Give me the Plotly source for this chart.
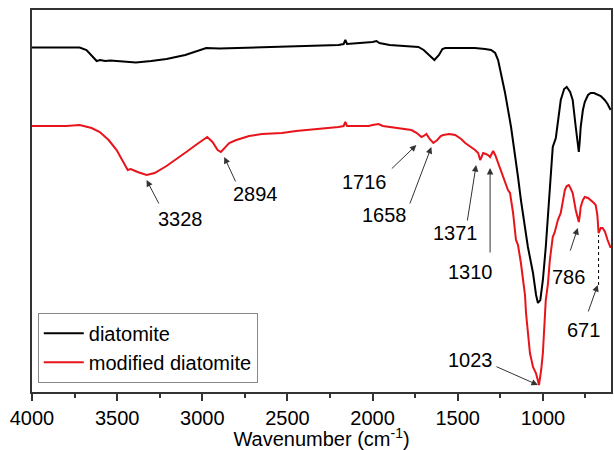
import plotly.graph_objects as go

# ---- data ----
wn_black = [4000, 3900, 3800, 3720, 3680, 3650, 3620, 3600, 3570, 3540, 3500, 3450, 3390, 3300, 3210, 3100,
            3018, 2977, 2900, 2800, 2700, 2600, 2500, 2433, 2300, 2200, 2170, 2160, 2150, 2100, 2050, 2023,
            2000, 1977, 1960, 1900, 1800, 1731, 1700, 1660, 1637, 1610, 1590, 1573, 1500, 1400, 1340, 1304,
            1280, 1263, 1222, 1187, 1146, 1129, 1088, 1058, 1040, 1029, 1015, 1000, 983, 959, 942, 924,
            910, 895, 875, 860, 840, 825, 807, 795, 789, 783, 778, 765, 754, 735, 719, 700, 678, 660, 637, 620, 602]
t_black = [344.5, 344.5, 344.5, 344.5, 342, 336, 331, 332, 331, 331.5, 331, 330, 329.5, 331, 333, 337,
           341.5, 344, 343.5, 344, 344, 344.5, 345, 345.3, 346, 347, 348, 352, 348, 348.5, 349, 350,
           350, 351, 349, 347, 346, 345, 342, 336, 332, 337, 343, 344, 344, 344, 343, 342,
           339, 332, 299, 265, 215, 192, 145, 119, 97, 89, 92, 112, 145, 207, 245, 254,
           272, 292, 303, 305, 300, 292, 265, 247, 240, 252, 265, 282, 290, 297, 299, 299, 297, 296, 292, 288, 282]

wn_red = [4000, 3900, 3800, 3720, 3700, 3650, 3602, 3550, 3503, 3470, 3456, 3438, 3420, 3409, 3380, 3327,
          3280, 3210, 3150, 3094, 3030, 2971, 2940, 2910, 2891, 2870, 2842, 2800, 2725, 2650, 2532, 2450,
          2374, 2300, 2200, 2170, 2160, 2150, 2100, 2023, 2000, 1965, 1940, 1900, 1850, 1772, 1740, 1713,
          1700, 1684, 1665, 1643, 1620, 1600, 1585, 1550, 1515, 1480, 1456, 1430, 1398, 1380, 1368, 1360,
          1351, 1335, 1322, 1310, 1300, 1292, 1280, 1263, 1240, 1216, 1205, 1193, 1175, 1158, 1146, 1129,
          1105, 1099, 1076, 1058, 1041, 1030, 1023, 1010, 1000, 983, 971, 959, 942, 930, 912, 895,
          880, 871, 860, 848, 838, 825, 807, 795, 789, 783, 778, 765, 754, 735, 719, 700, 690, 680,
          673, 660, 649, 635, 620, 602]
t_red = [266, 266, 266, 267, 266, 264, 260, 252, 242, 232, 227, 222, 223, 222, 220, 217,
         219, 226, 233, 240, 248, 255, 250, 242, 240, 244, 249, 252, 256, 258, 259, 261,
         262, 263, 265, 266, 270, 266, 266, 266, 267, 268, 266, 265, 264, 262, 259, 255,
         256, 258, 253, 249, 252, 256, 257, 258, 257, 253, 249, 246, 242, 239, 232, 235,
         239, 238, 237, 235, 239, 241, 237, 229, 217, 207, 202, 199, 179, 152, 147, 129,
         97, 79, 39, 25, 19, 12, 7, 22, 39, 92, 107, 132, 155, 160, 172, 179,
         192, 202, 206, 207, 204, 199, 182, 174, 170, 177, 185, 192, 195, 194, 192, 189, 187, 177,
         159, 164, 164, 160, 152, 144]

series_names = ["diatomite", "modified diatomite"]
x_ticks = [4000, 3500, 3000, 2500, 2000, 1500, 1000]

# peak labels: text, arrow head (wn, T), arrow tail offset (px), text position (wn, T)
peak_labels = ["3328", "2894", "1716", "1658", "1371", "1310", "1023", "786", "671"]
head_wn = [3327, 2871, 1743, 1655, 1392, 1310, 1029, 795, 678]
head_t = [212, 235, 247, 245, 227, 224, 7, 164, 107]
tail_dx = [13, 12, -26, -22, -9, 0, -43, -8, -10]
tail_dy = [25, 26, 25, 58, 57, 86, -19, 24, 28]
text_wn = [3129, 2690, 2047, 1930, 1515, 1427, 1427, 848, 760]
text_t = [173, 198, 210, 177, 159, 120, 32, 115, 62]

FONT = "Liberation Sans, Arial, sans-serif"

fig = go.Figure()
fig.add_trace(go.Scatter(x=wn_black, y=t_black, mode="lines", name=series_names[0],
                         line=dict(color="black", width=2)))
fig.add_trace(go.Scatter(x=wn_red, y=t_red, mode="lines", name=series_names[1],
                         line=dict(color="#e8141b", width=2)))

for lab, hx, hy, dx, dy, tx, ty in zip(peak_labels, head_wn, head_t, tail_dx, tail_dy, text_wn, text_t):
    fig.add_annotation(x=hx, y=hy, ax=dx, ay=dy, text="", showarrow=True,
                       arrowhead=2, arrowsize=1.3, arrowwidth=1, arrowcolor="#333",
                       xref="x", yref="y")
    fig.add_annotation(x=tx, y=ty, text=lab, showarrow=False, xref="x", yref="y",
                       font=dict(family=FONT, size=20, color="black"))

# dotted guide for 671
fig.add_shape(type="line", x0=673, x1=673, y0=107, y1=157, xref="x", yref="y",
              line=dict(color="black", width=1, dash="dot"))

fig.update_layout(
    width=614, height=450,
    margin=dict(l=32, r=1, t=10, b=58),
    paper_bgcolor="white", plot_bgcolor="white",
    font=dict(family=FONT, size=20, color="black"),
    showlegend=True,
    legend=dict(x=0.01, y=0.024, xanchor="left", yanchor="bottom",
                bordercolor="#888", borderwidth=1, bgcolor="white",
                font=dict(family=FONT, size=20), tracegroupgap=0,
                itemwidth=40),
)
fig.update_xaxes(range=[4000, 600], tickvals=x_ticks, ticks="outside", ticklen=7, tickwidth=1.5,
                 tickcolor="#333", showline=True, linecolor="#333", linewidth=1.5, mirror=True,
                 showgrid=False, zeroline=False,
                 minor=dict(ticks="outside", ticklen=4, dtick=250, tickwidth=1.5, tickcolor="#333"),
                 title=dict(text="Wavenumber (cm<sup>-1</sup>)", font=dict(family=FONT, size=20), standoff=4),
                 tickfont=dict(family=FONT, size=20))
fig.update_yaxes(range=[0, 382], showticklabels=False, ticks="", showline=True, linecolor="#333",
                 linewidth=1.5, mirror=True, showgrid=False, zeroline=False)

fig.write_html("out.html")
